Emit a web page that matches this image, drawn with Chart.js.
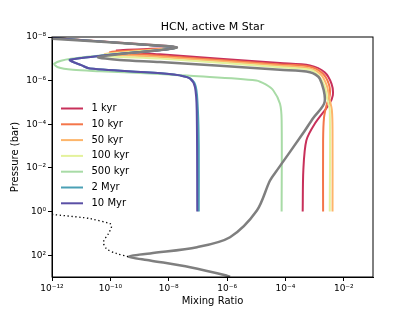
<!DOCTYPE html>
<html>
<head>
<meta charset="utf-8">
<script src="https://cdn.jsdelivr.net/npm/chart.js@4/dist/chart.umd.min.js"></script>
<style>
  html, body { margin: 0; padding: 0; background: #fff; }
  #wrap { width: 415px; height: 311px; }
</style>
</head>
<body>
<div id="wrap"><canvas id="chart" width="415" height="311"></canvas></div>
<script>
'use strict';

// tick values / labels
const xTickValues = [1e-12, 1e-10, 1e-8, 1e-6, 1e-4, 1e-2];
const xTickLabels = ['10⁻¹²', '10⁻¹⁰', '10⁻⁸', '10⁻⁶', '10⁻⁴', '10⁻²'];
const yTickValues = [1e-8, 1e-6, 1e-4, 1e-2, 1, 100];
const yTickLabels = ['10⁻⁸', '10⁻⁶', '10⁻⁴', '10⁻²', '10⁰', '10²'];

const seriesLabels = ['1 kyr', '10 kyr', '50 kyr', '100 kyr', '500 kyr', '2 Myr', '10 Myr'];
const seriesColors = ['#c8305a', '#f4764a', '#fdb56a', '#e4f29c', '#a8dba6', '#4aa0b5', '#5a4fa5'];

// mixing ratio (x) and pressure in bar (y)
const mix1kyr  = [1e-12, 9.3e-9, 1.9e-8, 9.3e-9, 1.66e-10, 5.0e-9, 6.5e-5, 6.9e-4, 2.2e-3, 3.8e-3, 4.2e-3, 3.1e-3, 1.02e-3, 5.2e-4, 4.1e-4, 3.9e-4];
const pres1kyr = [1.1e-8, 2.6e-8, 2.9e-8, 3.3e-8, 4.1e-8, 6.2e-8, 1.55e-7, 2.0e-7, 4.1e-7, 1.4e-6, 4.7e-6, 1.23e-5, 9.3e-5, 5.5e-4, 1.3e-2, 1.0];

const mix10kyr  = [1e-12, 9.3e-9, 1.9e-8, 9.3e-9, 9.8e-11, 5.0e-9, 6.5e-5, 6.9e-4, 1.9e-3, 3.1e-3, 3.3e-3, 2.6e-3, 2.1e-3, 1.95e-3, 1.95e-3];
const pres10kyr = [1.1e-8, 2.7e-8, 3.0e-8, 3.4e-8, 4.9e-8, 7.2e-8, 1.8e-7, 2.3e-7, 4.7e-7, 1.5e-6, 4.7e-6, 1.23e-5, 4.8e-5, 5.5e-4, 1.0];

const mix50kyr  = [1e-12, 9.3e-9, 1.9e-8, 9.3e-9, 6.6e-11, 5.0e-9, 6.5e-5, 6.9e-4, 1.6e-3, 2.6e-3, 3.2e-3, 3.9e-3, 4.1e-3, 4.1e-3];
const pres50kyr = [1.1e-8, 2.7e-8, 3.0e-8, 3.5e-8, 5.9e-8, 8.3e-8, 2.1e-7, 2.75e-7, 5.1e-7, 1.65e-6, 6.5e-6, 2.3e-5, 1.9e-4, 1.0];

const mix100kyr  = [1e-12, 9.3e-9, 1.9e-8, 9.3e-9, 5.1e-11, 5.0e-9, 6.5e-5, 6.9e-4, 1.38e-3, 2.2e-3, 2.7e-3, 3.3e-3, 3.3e-3];
const pres100kyr = [1.1e-8, 2.7e-8, 3.0e-8, 3.5e-8, 6.9e-8, 9.8e-8, 2.45e-7, 3.2e-7, 6.0e-7, 1.8e-6, 6.5e-6, 2.3e-5, 1.0];

const mix500kyr  = [1e-12, 9.3e-9, 1.9e-8, 9.3e-9, 4.5e-12, 1.2e-12, 1.6e-12, 5.2e-12, 4.4e-11, 5.0e-9, 5.4e-8, 1.0e-5, 2.1e-5, 3.8e-5, 6.5e-5, 7.4e-5, 7.4e-5];
const pres500kyr = [1.15e-8, 2.7e-8, 3.0e-8, 3.6e-8, 1.0e-7, 1.66e-7, 2.45e-7, 3.2e-7, 3.7e-7, 4.9e-7, 6.0e-7, 9.8e-7, 1.5e-6, 2.75e-6, 1.15e-5, 6.6e-5, 1.0];

const mix2Myr  = [1e-12, 9.3e-9, 1.9e-8, 9.3e-9, 4.2e-12, 1.05e-11, 2.0e-11, 8.5e-9, 2.4e-8, 5.6e-8, 8.5e-8, 1.0e-7, 1.07e-7, 1.07e-7];
const pres2Myr = [1.1e-8, 2.7e-8, 3.0e-8, 3.6e-8, 1.1e-7, 2.0e-7, 2.8e-7, 4.8e-7, 5.75e-7, 8.1e-7, 1.95e-6, 2.3e-5, 1.0e-3, 1.0];

const mix10Myr  = [1e-12, 9.3e-9, 1.9e-8, 9.3e-9, 4.2e-12, 1.05e-11, 2.0e-11, 8.5e-9, 2.4e-8, 5.4e-8, 7.9e-8, 9.1e-8, 9.5e-8];
const pres10Myr = [1.1e-8, 2.7e-8, 3.0e-8, 3.6e-8, 1.1e-7, 2.0e-7, 2.8e-7, 4.8e-7, 5.75e-7, 8.1e-7, 1.95e-6, 2.3e-5, 1.0];

const mixGray  = [1e-12, 8.5e-9, 1.9e-8, 9.3e-9, 3.9e-11, 2.1e-10, 5.0e-9, 6.5e-5, 6.9e-4, 1.5e-3, 2.2e-3, 8.7e-4, 4.0e-4, 5.1e-5, 2.95e-5, 1.05e-5, 1.26e-6, 9.3e-8, 2.3e-9, 4.1e-10, 2.3e-9, 5.4e-8, 9.5e-7, 1.26e-6];
const presGray = [1.2e-8, 2.6e-8, 3.0e-8, 3.6e-8, 8.3e-8, 1.12e-7, 1.4e-7, 3.2e-7, 4.1e-7, 8.1e-7, 9.5e-6, 5.4e-5, 2.6e-4, 1.3e-2, 3.8e-2, 0.9, 15, 43, 83, 117, 174, 355, 850, 1000];

const mixDotted  = [1e-12, 1.2e-11, 2.0e-11, 9.8e-11, 1.1e-10, 1.05e-10, 8.5e-11, 5.8e-11, 7.4e-11, 1.6e-10, 4.1e-10];
const presDotted = [1.35, 1.9, 2.1, 3.6, 4.4, 6.0, 10.5, 25, 51, 83, 117];

const seriesMix = [mix1kyr, mix10kyr, mix50kyr, mix100kyr, mix500kyr, mix2Myr, mix10Myr];
const seriesPres = [pres1kyr, pres10kyr, pres50kyr, pres100kyr, pres500kyr, pres2Myr, pres10Myr];

function toPoints(xs, ys) {
  return xs.map((x, i) => ({ x: x, y: ys[i] }));
}

const datasets = seriesLabels.map((lab, i) => ({
  label: lab,
  data: toPoints(seriesMix[i], seriesPres[i]),
  borderColor: seriesColors[i],
  borderWidth: 2,
  order: 20 - i,
}));

datasets.push({
  label: '',
  data: toPoints(mixGray, presGray),
  borderColor: '#7f7f7f',
  borderWidth: 2.5,
  order: 2,
});
datasets.push({
  label: '',
  data: toPoints(mixDotted, presDotted),
  borderColor: '#000000',
  borderWidth: 1.3,
  borderDash: [1.3, 2.6],
  order: 1,
});

const frame = {
  id: 'frame',
  afterDraw(chart) {
    const a = chart.chartArea;
    const ctx = chart.ctx;
    ctx.save();
    ctx.strokeStyle = '#000';
    ctx.lineWidth = 1;
    ctx.strokeRect(a.left, a.top, a.right - a.left, a.bottom - a.top);
    ctx.restore();
  }
};

const legendBox = {
  id: 'legendBox',
  afterDraw(chart) {
    const a = chart.chartArea;
    const ctx = chart.ctx;
    ctx.save();
    ctx.font = '10px "DejaVu Sans"';
    ctx.textBaseline = 'middle';
    ctx.fillStyle = '#000';
    seriesLabels.forEach((lab, i) => {
      const y = a.top + 71.5 + i * 15.8;
      ctx.strokeStyle = seriesColors[i];
      ctx.lineWidth = 2;
      ctx.beginPath();
      ctx.moveTo(a.left + 9, y);
      ctx.lineTo(a.left + 31, y);
      ctx.stroke();
      ctx.fillText(lab, a.left + 39.5, y);
    });
    ctx.restore();
  }
};

const ctx = document.getElementById('chart').getContext('2d');
const chart = new Chart(ctx, {
  type: 'scatter',
  data: { datasets: datasets },
  plugins: [frame, legendBox],
  options: {
    responsive: false,
    animation: false,
    showLine: true,
    elements: { point: { radius: 0 }, line: { tension: 0.3, fill: false } },
    layout: { padding: { left: 0, right: 42, top: 0, bottom: 0 } },
    plugins: {
      legend: { display: false },
      tooltip: { enabled: false },
      title: {
        display: true,
        text: 'HCN, active M Star',
        fullSize: false,
        color: '#000',
        font: { family: 'DejaVu Sans', size: 11, weight: 'normal' },
        padding: { top: 21, bottom: 2.8 },
      },
    },
    scales: {
      x: {
        type: 'logarithmic',
        min: 1e-12,
        max: 1e-1,
        afterFit: (s) => { s.height = 34; },
        afterBuildTicks: (s) => { s.ticks = xTickValues.map(v => ({ value: v })); },
        ticks: {
          color: '#000',
          font: { family: 'DejaVu Sans', size: 9 },
          padding: 2,
          maxRotation: 0,
          autoSkip: false,
          callback: (v) => xTickLabels[xTickValues.indexOf(v)],
        },
        grid: { drawOnChartArea: false, drawTicks: true, tickLength: 4, color: '#000' },
        border: { color: '#000' },
        title: {
          display: true,
          text: 'Mixing Ratio',
          color: '#000',
          font: { family: 'DejaVu Sans', size: 10 },
          padding: { top: 0, bottom: 3.5 },
        },
      },
      y: {
        type: 'logarithmic',
        min: 1e-8,
        max: 1e3,
        reverse: true,
        afterFit: (s) => { s.width = 52; },
        afterBuildTicks: (s) => { s.ticks = yTickValues.map(v => ({ value: v })); },
        ticks: {
          color: '#000',
          font: { family: 'DejaVu Sans', size: 9 },
          padding: 2,
          autoSkip: false,
          callback: (v) => yTickLabels[yTickValues.indexOf(v)],
        },
        grid: { drawOnChartArea: false, drawTicks: true, tickLength: 4, color: '#000' },
        border: { color: '#000' },
        title: {
          display: true,
          text: 'Pressure (bar)',
          color: '#000',
          font: { family: 'DejaVu Sans', size: 10 },
          padding: { top: 9, bottom: 0 },
        },
      },
    },
  },
});
</script>
</body>
</html>
